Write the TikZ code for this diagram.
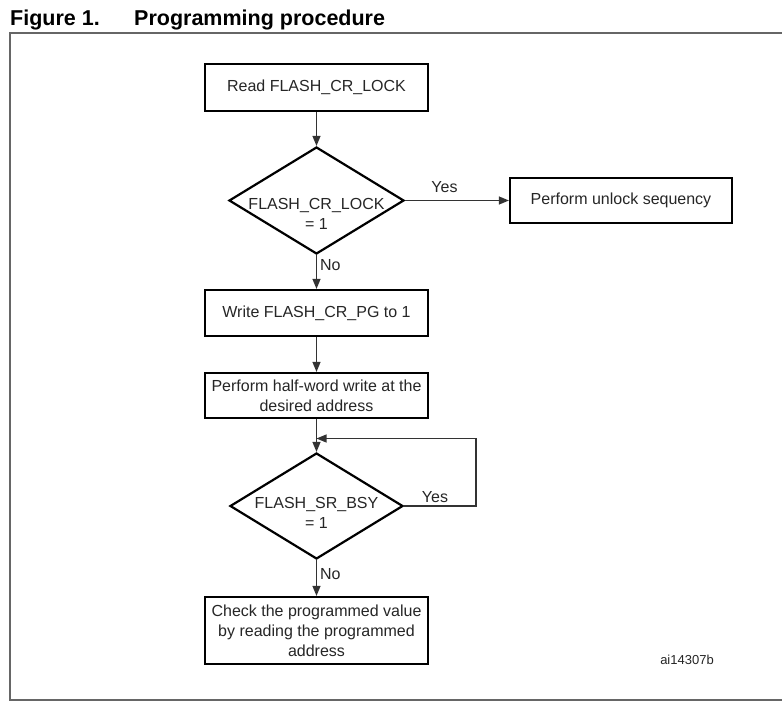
\documentclass[tikz,border=0pt]{standalone}
\usepackage{fontspec}
\setmainfont{Liberation Sans}
\usetikzlibrary{arrows.meta,shapes.geometric}
\begin{document}
\begin{tikzpicture}[x=1pt,y=-1pt,
  every node/.style={font=\fontsize{16}{20}\selectfont, text=black!85},
  procbox/.style={draw=black, line width=2.2pt, minimum width=223pt, inner sep=0pt, align=center},
  decbox/.style={draw=black, line width=2.2pt, shape=diamond, minimum width=175pt, minimum height=107pt, inner sep=0pt},
  dtext/.style={align=center, inner sep=0pt},
  conn/.style={draw=black!80, line width=1.1pt, -{Triangle[length=10pt,width=8pt]}},
  lbl/.style={inner sep=0pt},
  frame/.style={draw=black!60, line width=1.6pt}
]
\useasboundingbox (0,0) rectangle (782,720);
\fill[white] (0,0) rectangle (782,720);

% title
\node[anchor=base west, inner sep=0pt, font=\fontsize{21.5}{25}\selectfont\bfseries, text=black] (fig) at (10,25) {Figure 1.};
\node[anchor=base west, inner sep=0pt, font=\fontsize{21.5}{25}\selectfont\bfseries, text=black] (ttl) at (134,25) {Programming procedure};

% frame
\coordinate (fr1) at (783,32.7);
\coordinate (fr2) at (9.7,32.7);
\coordinate (fr3) at (9.7,700);
\coordinate (fr4) at (783,700);
\draw[frame] (fr1) -- (fr2) -- (fr3) -- (fr4);

% nodes
\node[procbox, minimum height=47pt] (b1) at (316.5,87.5) {Read FLASH\_CR\_LOCK};
\node[decbox] (d1) at (316.5,200.5) {};
\node[dtext] (d1t) at (316.5,214) {FLASH\_CR\_LOCK\\= 1};
\node[procbox, minimum width=222pt, minimum height=45pt] (un) at (621,200.5) {Perform unlock sequency};
\node[procbox, minimum height=46pt] (b2) at (316.5,313) {Write FLASH\_CR\_PG to 1};
\node[procbox, minimum height=45pt] (b3) at (316.5,395.5) {Perform half-word write at the\\desired address};
\node[decbox, minimum width=173pt, minimum height=106pt] (d2) at (316.5,506) {};
\node[dtext] (d2t) at (316.5,513) {FLASH\_SR\_BSY\\= 1};
\node[procbox, minimum height=67pt] (b4) at (316.5,630.5) {Check the programmed value\\by reading the programmed\\address};
\node[lbl, font=\fontsize{13}{16}\selectfont] (ref) at (687,660) {ai14307b};

% connectors
\draw[conn] (b1.south) -- (d1.north);
\draw[conn] (d1.east) -- node[lbl, above=7pt, pos=0.38] (yes1) {Yes} (un.west);
\draw[conn] (d1.south) -- node[lbl, right=3pt, pos=0.3] (no1) {No} (b2.north);
\draw[conn] (b2.south) -- (b3.north);
\draw[conn] (b3.south) -- (d2.north);
\coordinate (lpA) at (476,506);
\coordinate (lpB) at (476,438.5);
\coordinate (lpC) at (316.5,438.5);
\draw[conn] (d2.east) -- (lpA) -- (lpB) -- (lpC);
\node[lbl] (yes2) at (435,497) {Yes};
\draw[conn] (d2.south) -- node[lbl, right=3pt, pos=0.4] (no2) {No} (b4.north);
\end{tikzpicture}
\end{document}
